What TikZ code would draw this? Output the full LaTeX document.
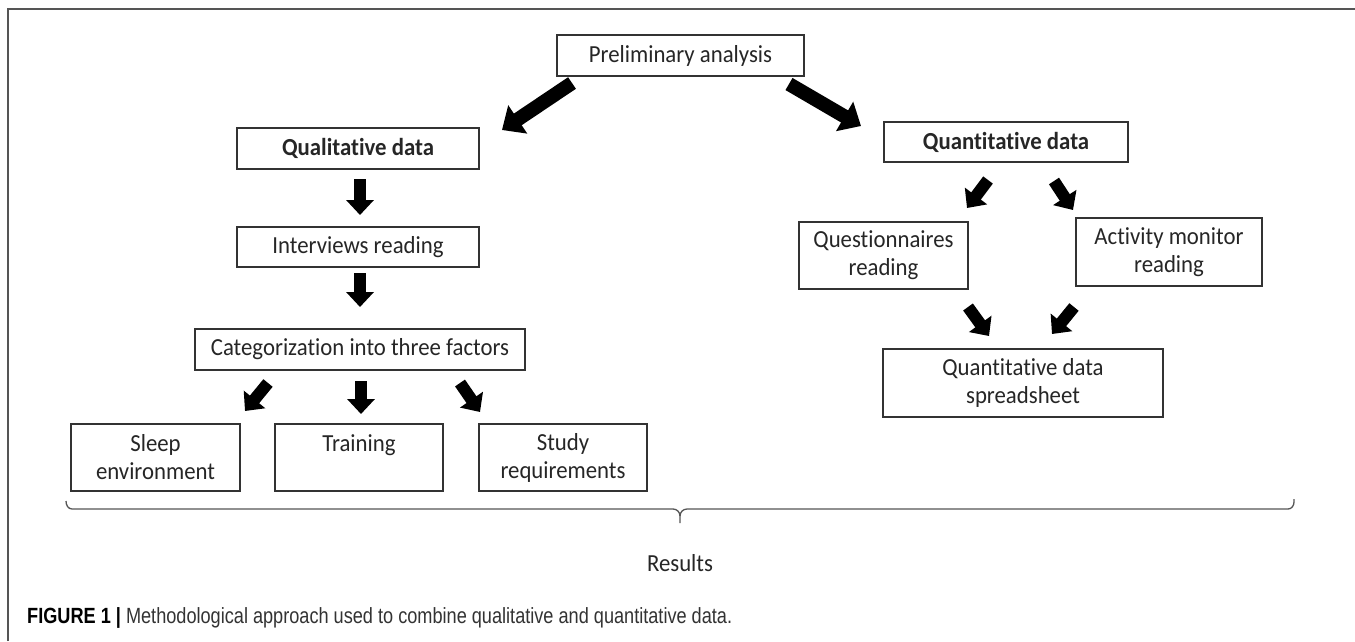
\documentclass[tikz,border=0pt]{standalone}
\usepackage{fontspec}
\usepackage{graphicx}
\setmainfont{Carlito}[FakeStretch=0.93, Ligatures=NoCommon]
\newfontfamily\capfont{Liberation Sans}
\usetikzlibrary{arrows.meta}
\definecolor{boxline}{HTML}{333333}
\definecolor{framegray}{HTML}{555555}
\begin{document}
\begin{tikzpicture}[x=1pt,y=-1pt,
  box/.style={draw=boxline, line width=1.3pt, inner sep=0pt, align=center,
    font=\fontsize{24.5}{28}\selectfont, text=black!85},
  blk/.style={line width=12pt, -{Triangle[length=15pt,width=27pt]}, black},
  bigblk/.style={line width=14pt, -{Triangle[length=19pt,width=33pt]}, black},
  bracestyle/.style={draw=framegray, line width=1.3pt},
]
\path[fill=white] (0,0) rectangle (1355,641);
\useasboundingbox (0,0) rectangle (1355,641);
\draw[framegray, line width=1.5pt] (8,641) -- (8,9) -- (1355,9);

% nodes
\node[box, minimum width=247pt, minimum height=41pt] (prelim) at (680.5,55.5) {Preliminary analysis};
\node[box, minimum width=242pt, minimum height=41pt, font=\fontsize{24.5}{28}\selectfont\bfseries] (qual) at (358,148.5) {Qualitative data};
\node[box, minimum width=242pt, minimum height=40pt] (interv) at (358,247) {Interviews reading};
\node[box, minimum width=330pt, minimum height=41pt] (categ) at (360,349.5) {Categorization into three factors};
\node[box, minimum width=169pt, minimum height=67pt] (sleep) at (155.5,457.5) {Sleep\\environment};
\node[box, minimum width=168pt, minimum height=67pt] (train) at (359,457.5) {Training\\\mbox{}};
\node[box, minimum width=168pt, minimum height=67pt] (study) at (563,457.5) {Study\\requirements};
\node[box, minimum width=244pt, minimum height=40pt, font=\fontsize{24.5}{28}\selectfont\bfseries] (quant) at (1006,142) {Quantitative data};
\node[box, minimum width=169pt, minimum height=67pt] (quest) at (883.5,255.5) {Questionnaires\\reading};
\node[box, minimum width=186pt, minimum height=68pt] (activ) at (1169,252) {Activity monitor\\reading};
\node[box, minimum width=280pt, minimum height=68pt] (spread) at (1023,383) {Quantitative data\\spreadsheet};

% arrow end points
\coordinate (a1t) at (572,83);   \coordinate (a1h) at (502,130);
\coordinate (a2t) at (789,84);   \coordinate (a2h) at (861,126);
\coordinate (a3t) at (360,179);  \coordinate (a3h) at (360,215);
\coordinate (a4t) at (360,273);  \coordinate (a4h) at (360,307);
\coordinate (a5t) at (268,383);  \coordinate (a5h) at (245,411);
\coordinate (a6t) at (361,381);  \coordinate (a6h) at (361,414);
\coordinate (a7t) at (460,383);  \coordinate (a7h) at (480,412);
\coordinate (a8t) at (988,180);  \coordinate (a8h) at (967,208);
\coordinate (a9t) at (1054,181); \coordinate (a9h) at (1073,210);
\coordinate (a10t) at (968,307); \coordinate (a10h) at (989,336);
\coordinate (a11t) at (1074,307);\coordinate (a11h) at (1052,334);

\draw[bigblk] (a1t) -- (a1h);
\draw[bigblk] (a2t) -- (a2h);
\draw[blk] (a3t) -- (a3h);
\draw[blk] (a4t) -- (a4h);
\draw[blk] (a5t) -- (a5h);
\draw[blk] (a6t) -- (a6h);
\draw[blk] (a7t) -- (a7h);
\draw[blk] (a8t) -- (a8h);
\draw[blk] (a9t) -- (a9h);
\draw[blk] (a10t) -- (a10h);
\draw[blk] (a11t) -- (a11h);

% brace
\draw[bracestyle] (66,501) to[out=-90,in=180] (72,509) -- (673,509)
  to[out=0,in=90] (680,516) -- (680,523);
\draw[bracestyle] (680,516) to[out=90,in=180] (687,509) -- (1288,509)
  to[out=0,in=-90] (1294,502) -- (1294,499);

\node[font=\fontsize{24.5}{28}\selectfont, text=black!85] (res) at (680,563) {Results};

\node[anchor=west, inner sep=0pt, font=\capfont\fontsize{22}{24}\selectfont, text=black!80] (cap) at (27,618)
  {\resizebox{705pt}{\height}{\textbf{\color{black}FIGURE 1 |} Methodological approach used to combine qualitative and quantitative data.}};
\end{tikzpicture}
\end{document}
